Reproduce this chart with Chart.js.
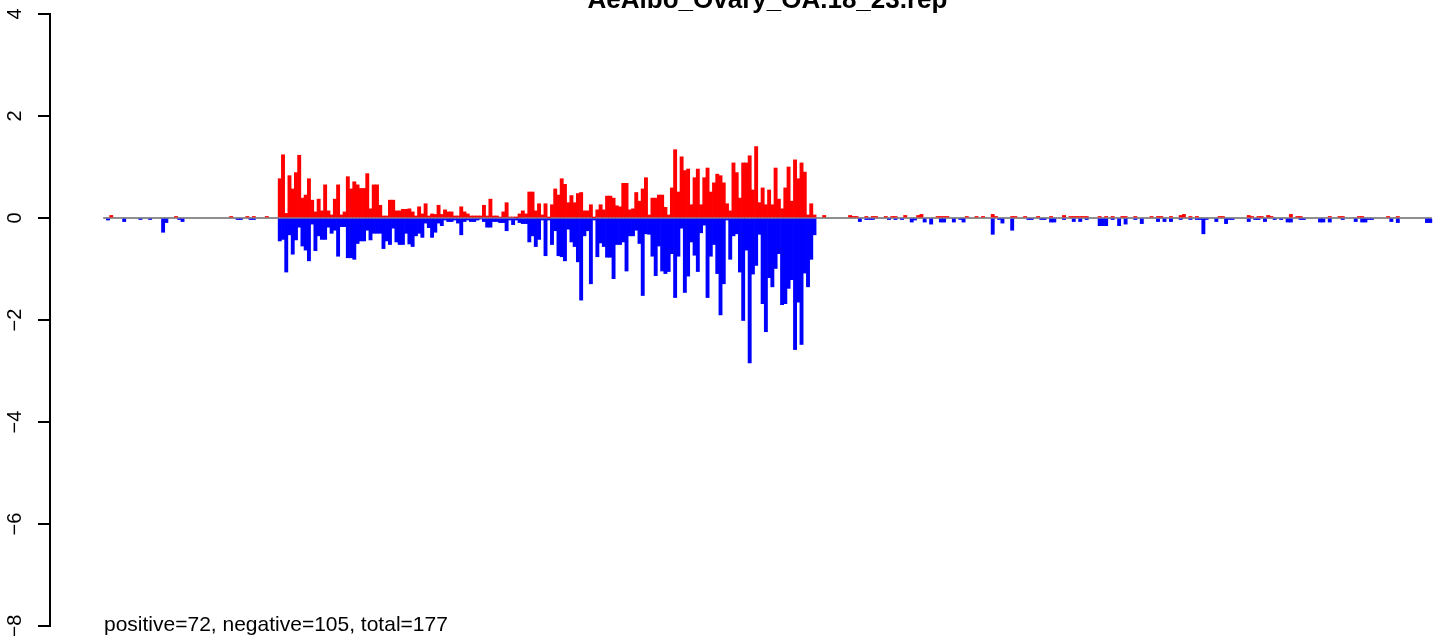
<!DOCTYPE html>
<html lang="en">
    <head>
        <meta charset="utf-8">
        <title>AeAlbo_Ovary_OA.18_23.rep</title>
        <script type="text/javascript" src="https://cdn.jsdelivr.net/npm/chart.js"></script>
        <style>
            html, body { margin: 0; padding: 0; overflow: hidden; background: #fff; }
        </style>
    </head>
    <body>
        <canvas id="chartRep" width="1485" height="636"></canvas>

        <script type="text/javascript">
        const titleText = 'AeAlbo_Ovary_OA.18_23.rep';
        const summaryText = 'positive=72, negative=105, total=177';
        const yTicks = [4, 2, 0, -2, -4, -6, -8];

        // one value per position
        const positive = [
            0,0,0.05,0,0,0,0,0,0,0,
            0,0,0,0,0,0,0,0,0,0,
            0,0,0.03,0,0,0,0,0,0,0,
            0,0,0,0,0,0,0,0,0,0.03,
            0,0,0,0,0.03,0,0.03,0,0,0,
            0.03,0,0,0,0.77,1.24,0.09,0.83,0.57,0.89,
            1.23,0.39,0.45,0.77,0.35,0.12,0.37,0.14,0.65,0.14,
            0.06,0.37,0.65,0.06,0.12,0.81,0.57,0.71,0.65,0.58,
            0.58,0.87,0.18,0.65,0.65,0.25,0.04,0.04,0.35,0.35,
            0.14,0.14,0.17,0.17,0.18,0.12,0.04,0.22,0.08,0.28,
            0.04,0.08,0.07,0.25,0.07,0.16,0.12,0.12,0.04,0.04,
            0.22,0.12,0.08,0.04,0.04,0.04,0.04,0.25,0.04,0.37,
            0.04,0.04,0.02,0.12,0.30,0.02,0.02,0.01,0.08,0.14,
            0.08,0.51,0.51,0.14,0.28,0.06,0.28,0.01,0.26,0.57,
            0.45,0.77,0.66,0.30,0.44,0.30,0.48,0.50,0.14,0.14,
            0.26,0.01,0.16,0.26,0.16,0.43,0.43,0.39,0.24,0.22,
            0.68,0.68,0.16,0.18,0.50,0.33,0.57,0.79,0.06,0.39,
            0.39,0.45,0.45,0.21,0.06,0.59,1.34,0.51,1.20,0.93,
            0.96,0.26,0.79,0.96,0.26,0.79,0.98,0.51,0.69,0.86,
            0.83,0.69,0.28,0.14,1.08,0.89,0.39,1.08,1.08,1.22,
            0.55,1.40,0.30,0.59,0.26,0.55,0.26,0.98,0.37,0.18,
            0.59,1.00,0.33,1.14,0.77,1.08,0.90,0.06,0.28,0.06,
            0,0,0.05,0,0,0,0,0,0,0,
            0.05,0.03,0.03,0,0,0.03,0,0.03,0.03,0,
            0,0.03,0,0.03,0.03,0,0,0.05,0,0,
            0,0.05,0.07,0,0,0,0,0.03,0.03,0.03,
            0.03,0,0,0,0,0,0.03,0,0,0.03,
            0,0.03,0,0,0.07,0.03,0,0,0,0,
            0.03,0.03,0,0,0.03,0,0,0,0.03,0,
            0,0,0.03,0,0,0,0.05,0,0.03,0.03,
            0.03,0.03,0.03,0.03,0,0,0,0.03,0,0.03,
            0,0.03,0,0,0.03,0.03,0,0,0.03,0,
            0,0,0,0.03,0,0.03,0.03,0,0,0.03,
            0,0,0.05,0.07,0,0.03,0,0.03,0,0,
            0,0,0,0,0.03,0.03,0,0,0,0,
            0,0,0,0.05,0.03,0,0.03,0.03,0,0.05,
            0.03,0,0,0,0,0,0.07,0,0.03,0.03,
            0,0,0,0,0,0,0,0,0.03,0,
            0,0.03,0.03,0,0,0,0,0.03,0.03,0,
            0,0,0,0,0,0,0.03,0,0,0.03,
            0,0,0,0,0,0,0,0,0,0
        ];

        const negative = [
            0,-0.04,0,0,0,0,-0.07,0,0,0,
            0,-0.03,0,0,-0.03,0,0,0,-0.28,-0.09,
            0,0,0,-0.03,-0.07,0,0,0,0,0,
            0,0,0,0,0,0,0,0,0,0,
            0,-0.03,-0.03,0,0,-0.03,-0.03,0,0,0,
            0,0,0,0,-0.45,-0.42,-1.06,-0.33,-0.71,-0.43,
            -0.18,-0.55,-0.63,-0.84,-0.12,-0.64,-0.35,-0.42,-0.42,-0.18,
            -0.30,-0.24,-0.75,-0.17,-0.17,-0.78,-0.78,-0.81,-0.50,-0.45,
            -0.45,-0.24,-0.43,-0.30,-0.30,-0.30,-0.60,-0.45,-0.52,-0.20,
            -0.47,-0.52,-0.52,-0.30,-0.51,-0.56,-0.35,-0.30,-0.38,-0.10,
            -0.19,-0.38,-0.28,-0.10,-0.15,-0.04,-0.07,-0.07,-0.04,-0.10,
            -0.33,-0.07,-0.04,-0.07,-0.07,-0.04,-0.02,-0.07,-0.18,-0.18,
            -0.07,-0.07,-0.09,-0.09,-0.25,-0.04,-0.13,-0.04,-0.09,-0.11,
            -0.11,-0.47,-0.35,-0.56,-0.42,-0.04,-0.74,-0.04,-0.52,-0.25,
            -0.74,-0.76,-0.84,-0.22,-0.47,-0.56,-0.86,-1.61,-0.35,-0.25,
            -1.29,-0.04,-0.76,-0.49,-0.56,-0.77,-0.77,-1.19,-0.52,-0.52,
            -0.47,-1.04,-0.35,-0.35,-0.24,-0.50,-1.52,-0.31,-0.32,-0.75,
            -1.13,-0.55,-1.04,-1.09,-1.05,-0.70,-1.56,-0.75,-0.20,-1.46,
            -1.14,-0.47,-0.73,-1.05,-0.29,-0.14,-1.56,-0.75,-0.52,-1.09,
            -1.90,-1.29,-0.04,-0.81,-0.35,-0.31,-1.06,-2.01,-0.63,-2.84,
            -1.10,-0.93,-0.32,-1.68,-2.23,-1.17,-1.35,-0.99,-0.70,-1.70,
            -1.68,-1.38,-1.21,-2.58,-1.65,-2.48,-1.08,-1.35,-0.81,-0.33,
            0,0,0,0,0,0,0,0,0,0,
            0,0,0,-0.07,0,-0.03,-0.03,-0.03,0,0,
            0,0,-0.03,0,-0.03,0,-0.03,0,0,-0.08,
            -0.04,0,0,-0.08,0,-0.12,0,0,-0.08,-0.08,
            0,0,-0.08,0,-0.03,-0.08,0,0,0,0,
            0,0,0,0,-0.32,0,-0.03,-0.10,0,0,
            -0.24,0,0,0,0,-0.03,-0.03,0,0,-0.03,
            -0.03,0,-0.08,-0.08,0,0,-0.03,0,0,-0.07,
            0,-0.07,0,-0.03,0,0,0,-0.15,-0.15,-0.15,
            0,-0.03,0,-0.15,0,-0.12,0,0,-0.03,0,
            -0.11,0,0,0,0,-0.07,0,-0.07,0,-0.07,
            0,0,-0.03,0,0,-0.03,0,-0.03,-0.03,-0.31,
            -0.03,0,0,-0.07,0,0,-0.11,-0.03,-0.03,0,
            0,0,0,-0.07,0,-0.03,-0.03,0,-0.07,0,
            0,-0.03,0,-0.03,0,-0.08,-0.08,0,0,-0.03,
            -0.03,0,0,0,0,-0.08,-0.08,0,-0.08,0,
            0,0,-0.03,0,0,0,-0.07,0,-0.08,-0.08,
            -0.03,-0.03,0,0,0,0,0,-0.07,0,-0.09,
            0,0,0,0,0,0,0,0,-0.09,-0.09
        ];

        const nBars = positive.length;
        // R adds 4% on each side of the bar range
        const xPad = 0.04 * nBars;

        // empty positions get no bar at all (a zero bar still leaves a hairline)
        function toPoints(values) {
            return values
                .map(function (v, i) { return {x: i, y: v}; })
                .filter(function (p) { return p.y !== 0; });
        }

        // gray zero line under the bars, over the bar range only
        const zeroLine = {
            id: 'zeroLine',
            beforeDatasetsDraw: function (chart) {
                const c = chart.ctx, xs = chart.scales.x, ys = chart.scales.y;
                const y0 = ys.getPixelForValue(0);
                c.save();
                c.strokeStyle = '#8f8f8f';
                c.lineWidth = 2;
                c.beginPath();
                c.moveTo(xs.getPixelForValue(-0.5), y0);
                c.lineTo(xs.getPixelForValue(nBars - 0.5), y0);
                c.stroke();
                c.restore();
            }
        };

        // rotated y labels, title and the count line
        const texts = {
            id: 'texts',
            afterDraw: function (chart) {
                const c = chart.ctx, ys = chart.scales.y, area = chart.chartArea;
                c.save();
                c.fillStyle = '#000';
                c.font = '20px "Liberation Sans", Arial, sans-serif';
                c.textAlign = 'center';
                c.textBaseline = 'alphabetic';
                yTicks.forEach(function (t) {
                    c.save();
                    c.translate(21, ys.getPixelForValue(t));
                    c.rotate(-Math.PI / 2);
                    c.fillText(String(t).replace('-', '\u2212'), 0, 0);
                    c.restore();
                });

                c.font = 'bold 26px "Liberation Sans", Arial, sans-serif';
                c.fillText(titleText, (area.left + area.right) / 2, 8);

                c.textAlign = 'left';
                c.font = '21px "Liberation Sans", Arial, sans-serif';
                c.fillText(summaryText, 104, 631);
                c.restore();
            }
        };

        const ctx = document.getElementById('chartRep').getContext('2d');
        const myChart = new Chart(ctx, {
            type: 'bar',
            data: {
                datasets: [{
                    label: 'positive',
                    data: toPoints(positive),
                    backgroundColor: '#ff0000',
                    borderWidth: 0
                }, {
                    label: 'negative',
                    data: toPoints(negative),
                    backgroundColor: '#0000ff',
                    borderWidth: 0
                }]
            },
            options: {
                responsive: false,
                animation: false,
                devicePixelRatio: 1,
                categoryPercentage: 1.0,
                barPercentage: 1.0,
                layout: { padding: { top: 14, bottom: 10, left: 0, right: 0 } },
                plugins: {
                    legend: { display: false },
                    tooltip: { enabled: false },
                    title: { display: false }
                },
                scales: {
                    x: {
                        type: 'linear',
                        stacked: true,
                        display: false,
                        offset: false,
                        grid: { offset: false },
                        min: -0.5 - xPad,
                        max: nBars - 0.5 + xPad
                    },
                    y: {
                        stacked: true,
                        min: -8,
                        max: 4,
                        ticks: { display: false, stepSize: 2 },
                        grid: {
                            drawOnChartArea: false,
                            drawTicks: true,
                            tickLength: 12,
                            color: '#000',
                            lineWidth: 2
                        },
                        border: { display: true, color: '#000', width: 2 },
                        afterFit: function (scale) { scale.width = 50; }
                    }
                }
            },
            plugins: [zeroLine, texts]
        });
        </script>
    </body>
</html>
